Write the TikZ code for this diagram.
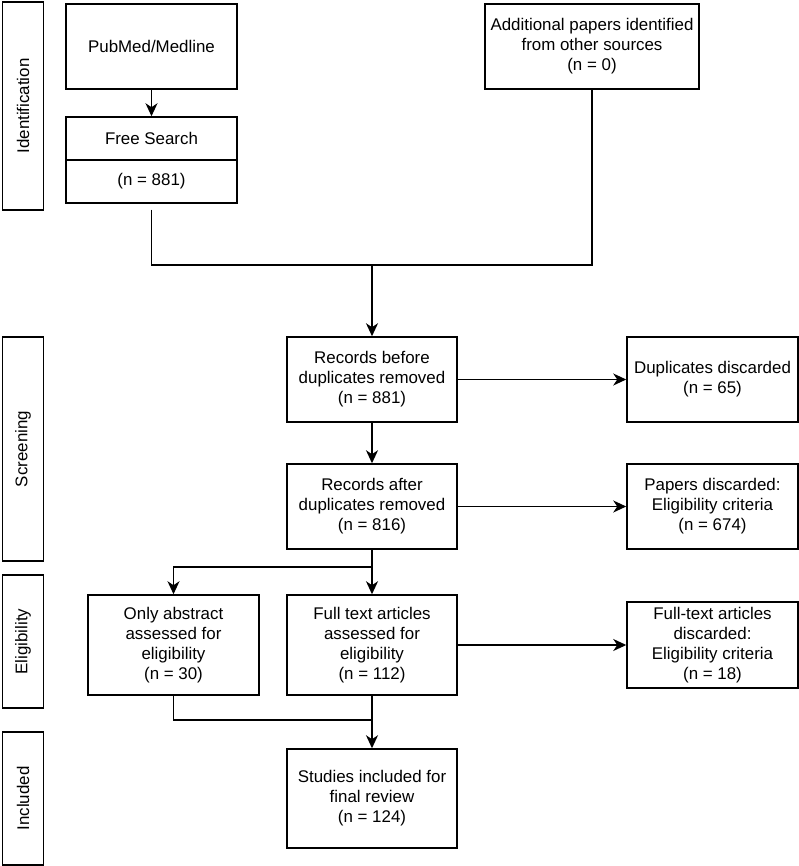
\documentclass[tikz,border=0pt]{standalone}
\usepackage{fontspec}
\setmainfont{Liberation Sans}
\usetikzlibrary{arrows.meta}

\begin{document}
\begin{tikzpicture}[x=1pt, y=-1pt, line width=1.5pt,
  every node/.style={font=\fontsize{16.9}{20}\selectfont, align=center, inner sep=0pt},
  box/.style={draw, rectangle, minimum width=171pt, minimum height=85pt},
  phase/.style={draw, rectangle, rotate=90, minimum height=41pt},
  arr/.style={-{Stealth[length=13pt,width=12pt,inset=4pt]}}]
\useasboundingbox (0,0) rectangle (799,866);
% Fases
\foreach \name/\lbl/\yc/\h in {ident/Identification/106/208, screen/Screening/449/224,
    elig/Eligibility/641.5/133, incl/Included/798.5/133}
    \node[phase, minimum width=\h pt] (\name) at (23,\yc) {\lbl};
% Identificacao
\node[box] (pubmed) at (151.5,46.5) {PubMed/Medline};
\node[box, minimum height=43pt] (free) at (151.5,138.5) {Free Search};
\node[box, minimum height=43pt] (freen) at (151.5,181.5) {(n = 881)};
\node[box, minimum width=214pt] (extra) at (592,46.5) {Additional papers identified\\from other sources\\(n = 0)};
% Triagem
\node[box, minimum width=170pt] (before) at (372,379.5) {Records before\\duplicates removed\\(n = 881)};
\node[box] (dup) at (712.5,379.5) {Duplicates discarded\\(n = 65)};
\node[box, minimum width=170pt] (after) at (372,506.5) {Records after\\duplicates removed\\(n = 816)};
\node[box] (papers) at (712.5,506.5) {Papers discarded:\\Eligibility criteria\\(n = 674)};
% Elegibilidade
\node[box, minimum height=100pt] (abstract) at (173.5,645) {Only abstract\\assessed for\\eligibility\\(n = 30)};
\node[box, minimum width=170pt, minimum height=100pt] (fulltext) at (372,645) {Full text articles\\assessed for\\eligibility\\(n = 112)};
\node[box, minimum height=86pt] (ftdisc) at (712.5,645) {Full-text articles\\discarded:\\Eligibility criteria\\(n = 18)};
% Incluidos
\node[box, minimum width=170pt, minimum height=99pt] (studies) at (372,798.5) {Studies included for\\final review\\(n = 124)};
% Conexoes
\coordinate (merge) at (372,265);
\coordinate (split) at (372,567);
\coordinate (join) at (372,720);
\draw[arr] (pubmed) -- (free);
\draw ([yshift=-6pt]freen.south) |- (merge);
\draw (extra.south) |- (merge);
\draw[arr] (merge) -- (before);
\draw[arr] (before) -- (dup);
\draw[arr] (before) -- (after);
\draw[arr] (after) -- (papers);
\draw (after.south) -- (split);
\draw[arr] (split) -| (abstract.north);
\draw[arr] (split) -- (fulltext);
\draw[arr] (fulltext) -- (ftdisc);
\draw (abstract.south) |- (join);
\draw[arr] (fulltext) -- (studies);
\end{tikzpicture}
\end{document}
